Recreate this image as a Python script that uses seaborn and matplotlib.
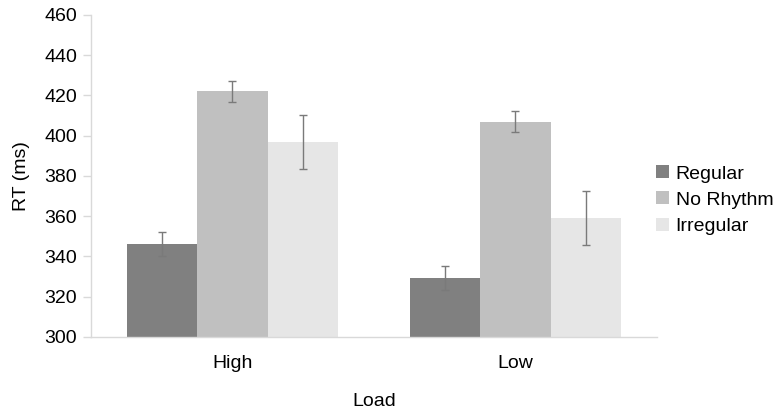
import pandas as pd
import matplotlib
matplotlib.use("Agg")
import matplotlib.pyplot as plt
import seaborn as sns

loads = ["High", "Low"]
conditions = ["Regular", "No Rhythm", "Irregular"]
regular = [346.3, 329.3]
no_rhythm = [422.0, 407.0]
irregular = [396.8, 359.0]
regular_err = [6.0, 6.1]
no_rhythm_err = [5.4, 5.4]
irregular_err = [13.5, 13.4]

rows = []
for i, load in enumerate(loads):
    rows.append([load, "Regular", regular[i], regular_err[i]])
    rows.append([load, "No Rhythm", no_rhythm[i], no_rhythm_err[i]])
    rows.append([load, "Irregular", irregular[i], irregular_err[i]])
df = pd.DataFrame(rows, columns=["Load", "Condition", "RT", "err"])

sns.set_style("white")
plt.rcParams["font.family"] = ["Liberation Sans", "DejaVu Sans"]
plt.rcParams["text.color"] = "black"
plt.rcParams["axes.labelcolor"] = "black"
plt.rcParams["xtick.labelcolor"] = "black"
plt.rcParams["ytick.labelcolor"] = "black"

fig = plt.figure(figsize=(7.84, 4.15), dpi=100)
ax = fig.add_axes([0.116, 0.188, 0.722, 0.776])

colors = ["#808080", "#c0c0c0", "#e6e6e6"]
sns.barplot(data=df, x="Load", y="RT", hue="Condition", order=loads,
            hue_order=conditions, palette=colors, width=0.746, gap=0,
            saturation=1, errorbar=None, ax=ax, linewidth=0)

# error bars on each bar
for cont, cond in zip(ax.containers, conditions):
    sub = df[df["Condition"] == cond].set_index("Load").loc[loads]
    xs = [p.get_x() + p.get_width() / 2 for p in cont.patches]
    ax.errorbar(xs, sub["RT"], yerr=sub["err"], fmt="none", ecolor="#7a7a7a",
                elinewidth=1, capsize=3.2, capthick=1)

ax.set_ylim(300, 460)
ax.set_yticks(range(300, 461, 20))
ax.set_xlim(-0.5, 1.5)
ax.tick_params(axis="y", labelsize=14, length=6, color="#d9d9d9", width=1, pad=4, left=True)
ax.tick_params(axis="x", labelsize=14, length=0, pad=13)
for s in ["top", "right"]:
    ax.spines[s].set_visible(False)
for s in ["left", "bottom"]:
    ax.spines[s].set_color("#d9d9d9")
    ax.spines[s].set_linewidth(1)
ax.set_ylabel("RT (ms)", fontsize=14, labelpad=10)
ax.set_xlabel("Load", fontsize=14, labelpad=15)

leg = ax.legend(loc="center left", bbox_to_anchor=(0.985, 0.425), frameon=False,
                fontsize=14, handlelength=0.65, handleheight=0.65,
                handletextpad=0.35, labelspacing=0.45, borderaxespad=0.0)

plt.savefig("out.png", dpi=100)
